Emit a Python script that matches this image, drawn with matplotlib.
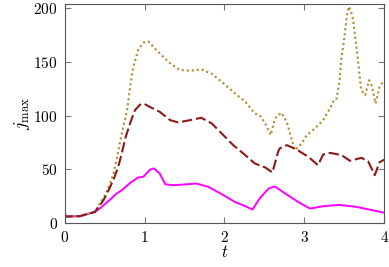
import numpy as np
import matplotlib
matplotlib.use('Agg')
import matplotlib.pyplot as plt

plt.rcParams['font.family'] = 'serif'
plt.rcParams['font.serif'] = ['cmr10', 'DejaVu Serif']
plt.rcParams['mathtext.fontset'] = 'cm'
plt.rcParams['axes.formatter.use_mathtext'] = True

# gold dotted curve
t_gold = [0, 0.003, 0.01, 0.19, 0.38, 0.44, 0.51, 0.57, 0.61, 0.65, 0.69, 0.735, 0.78,
          0.82, 0.86, 0.92, 0.985, 1.05, 1.15, 1.19, 1.32, 1.44, 1.57, 1.715, 1.84,
          1.965, 2.11, 2.26, 2.38, 2.44, 2.51, 2.58, 2.63, 2.71, 2.78, 2.82, 2.88,
          2.965, 3.03, 3.13, 3.235, 3.32, 3.36, 3.40, 3.44, 3.46, 3.49, 3.53, 3.555,
          3.58, 3.61, 3.67, 3.71, 3.76, 3.81, 3.84, 3.89, 3.94, 4.0]
j_gold = [0, 11, 6, 6.3, 10.3, 18, 26, 37, 46, 58.5, 74, 90, 104,
          127, 145.6, 161, 168, 169, 161, 158, 148.8, 142.5, 141.9, 143, 139,
          131.6, 122, 113, 102, 100.5, 92.8, 82, 97.4, 102.7, 94.3, 83.4, 67.8,
          74, 81.8, 88, 95.8, 106.8, 113, 114.5, 133, 151.8, 167, 192, 201.6,
          198, 189, 151.8, 124, 119, 133, 128.5, 111.4, 127, 133]

# dark red dashed curve
t_red = [0, 0.003, 0.01, 0.19, 0.38, 0.485, 0.55, 0.61, 0.67, 0.715, 0.76, 0.82, 0.88,
         0.94, 0.985, 1.07, 1.15, 1.19, 1.32, 1.42, 1.57, 1.71, 1.84, 1.965, 2.11,
         2.26, 2.38, 2.51, 2.60, 2.67, 2.69, 2.78, 2.90, 3.05, 3.17, 3.235, 3.32,
         3.465, 3.57, 3.715, 3.80, 3.88, 3.94, 4.0]
j_red = [0, 11, 6, 6.3, 10.3, 21, 30.5, 40, 52, 64.8, 79, 93, 105,
         110, 111.4, 108, 105, 103.6, 95.8, 93.7, 95.8, 98, 92.8, 83.4, 72.5,
         63.2, 55.4, 51.7, 47, 66, 69.4, 72.5, 68.5, 61.6, 53.8, 63.8, 65.3,
         63.2, 57.9, 60.7, 57, 44.5, 56.5, 59]

# magenta solid curve
t_mag = [0, 0.003, 0.01, 0.19, 0.38, 0.44, 0.57, 0.65, 0.715, 0.82, 0.92, 0.985, 1.07,
         1.12, 1.19, 1.26, 1.36, 1.485, 1.65, 1.80, 1.965, 2.13, 2.26, 2.35, 2.44,
         2.55, 2.63, 2.76, 2.92, 3.07, 3.235, 3.44, 3.65, 4.0]
j_mag = [0, 11, 6, 6.3, 10.3, 13.4, 21.8, 27.4, 30.5, 37.3, 42.4, 43, 49.8,
         50.8, 46, 36, 35.2, 35.8, 36.7, 33.6, 26.8, 19.6, 15.6, 12.5, 22.8,
         32, 34, 27.4, 19.6, 13.4, 15.6, 16.8, 15, 9.5]

fig = plt.figure(figsize=(3.89, 2.67), dpi=100)
ax = fig.add_axes([0.166, 0.165, 0.822, 0.82])

ax.plot(t_mag, j_mag, color='#ff00ff', lw=1.4)
ax.plot(t_gold, j_gold, color='#b08a2e', lw=1.5, linestyle=(0, (1, 1.4)))
ax.plot(t_red, j_red, color='#8b1a1a', lw=1.5, linestyle=(0, (5, 1.8)))

ax.set_xlim(0, 4)
ax.set_ylim(0, 204)
ax.set_xticks([0, 1, 2, 3, 4])
ax.set_yticks([0, 50, 100, 150, 200])
ax.tick_params(direction='in', top=True, right=True, length=4, width=0.8,
               color='#777777', labelsize=11, pad=5)
for s in ax.spines.values():
    s.set_color('#555555')
    s.set_linewidth(0.8)

ax.set_xlabel('$t$', fontsize=12, labelpad=-1)
ax.set_ylabel(r'$j_{\max}$', fontsize=13, labelpad=1)

fig.savefig('out.png', dpi=100)
